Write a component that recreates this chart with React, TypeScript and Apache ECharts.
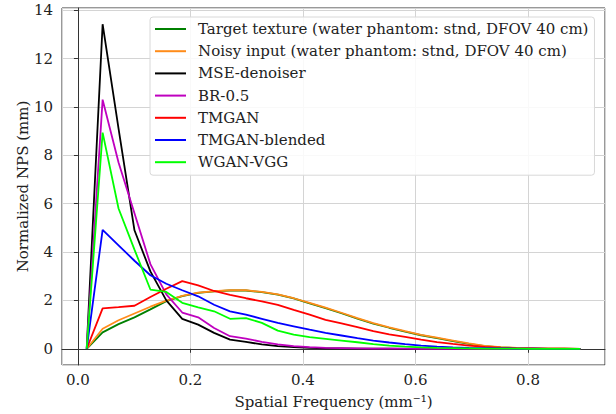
import React, { useEffect, useRef } from "react";
import * as echarts from "echarts";

const freq = [0.0156, 0.0439, 0.0722, 0.1005, 0.1288, 0.1571, 0.1854, 0.2137, 0.242, 0.2703, 0.2986, 0.3269, 0.3552, 0.3835, 0.4118, 0.4401, 0.4684, 0.4967, 0.525, 0.5533, 0.5816, 0.6099, 0.6382, 0.6665, 0.6948, 0.7231, 0.7514, 0.7797, 0.808, 0.8363, 0.8646, 0.8929];

const targetTexture = [0, 0.68, 1.02, 1.3, 1.63, 1.97, 2.18, 2.31, 2.37, 2.41, 2.41, 2.34, 2.24, 2.08, 1.88, 1.68, 1.47, 1.25, 1.04, 0.87, 0.71, 0.56, 0.44, 0.32, 0.2, 0.11, 0.06, 0.03, 0.02, 0.01, 0.01, 0];
const noisyInput = [0, 0.83, 1.18, 1.46, 1.74, 1.99, 2.19, 2.32, 2.38, 2.42, 2.42, 2.35, 2.25, 2.09, 1.9, 1.7, 1.49, 1.27, 1.06, 0.89, 0.73, 0.58, 0.46, 0.34, 0.22, 0.12, 0.07, 0.04, 0.02, 0.01, 0.01, 0];
const mseDenoiser = [0, 13.42, 9.1, 4.9, 3.2, 2.0, 1.24, 1.0, 0.66, 0.38, 0.29, 0.18, 0.11, 0.07, 0.04, 0.02, 0.02, 0.01, 0.01, 0.01, 0, 0, 0, 0, 0, 0, 0, 0, 0, 0, 0, 0];
const br05 = [0, 10.3, 7.7, 5.6, 3.5, 2.25, 1.5, 1.3, 0.86, 0.52, 0.42, 0.29, 0.18, 0.11, 0.07, 0.04, 0.03, 0.02, 0.01, 0.01, 0.01, 0, 0, 0, 0, 0, 0, 0, 0, 0, 0, 0];
const tmgan = [0, 1.67, 1.72, 1.78, 2.14, 2.48, 2.8, 2.62, 2.39, 2.23, 2.09, 1.96, 1.82, 1.61, 1.41, 1.2, 1.05, 0.9, 0.73, 0.6, 0.49, 0.38, 0.28, 0.2, 0.13, 0.08, 0.05, 0.03, 0.02, 0.01, 0.01, 0];
const tmganBlended = [0, 4.92, 4.28, 3.64, 3.04, 2.69, 2.42, 2.17, 1.82, 1.55, 1.41, 1.24, 1.07, 0.93, 0.79, 0.66, 0.55, 0.44, 0.34, 0.26, 0.19, 0.13, 0.09, 0.06, 0.04, 0.03, 0.02, 0.01, 0.01, 0, 0, 0];
const wganVgg = [0, 8.94, 5.8, 4.1, 2.45, 2.35, 1.9, 1.71, 1.55, 1.24, 1.27, 1.07, 0.75, 0.59, 0.48, 0.41, 0.34, 0.27, 0.19, 0.13, 0.09, 0.06, 0.04, 0.03, 0.02, 0.01, 0.01, 0.01, 0, 0, 0, 0];

const seriesNames = [
  "Target texture (water phantom: stnd, DFOV 40 cm)",
  "Noisy input (water phantom: stnd, DFOV 40 cm)",
  "MSE-denoiser",
  "BR-0.5",
  "TMGAN",
  "TMGAN-blended",
  "WGAN-VGG",
];
const seriesValues = [targetTexture, noisyInput, mseDenoiser, br05, tmgan, tmganBlended, wganVgg];
const seriesColors = ["#008000", "#ff8c1a", "#000000", "#bf00bf", "#ff0000", "#0000ff", "#00ff00"];

const FONT = "'DejaVu Serif', serif";
const FS = 15;

export default function App() {
  const ref = useRef<HTMLDivElement>(null);
  useEffect(() => {
    if (!ref.current) return;
    const chart = echarts.init(ref.current, null, { renderer: "svg" });
    const isMultiple = (v: number, step: number) => Math.abs(v / step - Math.round(v / step)) < 1e-6;
    chart.setOption({
      animation: false,
      backgroundColor: "#ffffff",
      grid: {
        left: 62,
        right: 11,
        top: 8,
        bottom: 47,
        show: true,
        borderColor: "#333",
        borderWidth: 1,
        backgroundColor: "transparent",
      },
      legend: {
        orient: "vertical",
        left: 150,
        top: 17,
        icon: "rect",
        itemWidth: 31,
        itemHeight: 2,
        itemGap: 0.2,
        padding: [1, 6, 2, 5],
        backgroundColor: "rgba(255,255,255,0.85)",
        borderColor: "#d8d8d8",
        borderWidth: 1,
        borderRadius: 3,
        textStyle: { fontFamily: FONT, fontSize: FS, lineHeight: 22, color: "#222", padding: [0, 0, 0, 7] },
        data: seriesNames,
      },
      xAxis: {
        type: "value",
        min: -0.0283,
        max: 0.9368,
        splitNumber: 5,
        name: "Spatial Frequency (mm⁻¹)",
        nameLocation: "middle",
        nameGap: 29,
        nameMoveOverlap: false,
        nameTextStyle: { fontFamily: FONT, fontSize: FS, color: "#222" },
        axisLine: { show: true, lineStyle: { color: "#333" } },
        axisTick: { show: true, length: 4, lineStyle: { color: "#333" } },
        axisLabel: {
          fontFamily: FONT,
          fontSize: FS,
          color: "#222",
          margin: 7,
          showMinLabel: false,
          showMaxLabel: false,
          formatter: (v: number) => (isMultiple(v, 0.2) ? v.toFixed(1) : ""),
        },
        splitLine: { show: true, lineStyle: { color: "#d4d4d4", width: 1 } },
      },
      yAxis: {
        type: "value",
        min: -0.67,
        max: 14.09,
        splitNumber: 7,
        name: "Normalized NPS (mm)",
        nameLocation: "middle",
        nameGap: 32,
        nameMoveOverlap: false,
        nameTextStyle: { fontFamily: FONT, fontSize: FS, color: "#222" },
        axisLine: { show: true, lineStyle: { color: "#333" } },
        axisTick: { show: true, length: 4, lineStyle: { color: "#333" } },
        axisLabel: {
          fontFamily: FONT,
          fontSize: FS,
          color: "#222",
          margin: 9,
          showMinLabel: false,
          showMaxLabel: false,
          formatter: (v: number) => (isMultiple(v, 2) ? String(Math.round(v)) : ""),
        },
        splitLine: { show: true, lineStyle: { color: "#d4d4d4", width: 1 } },
      },
      series: seriesNames.map((name, k) => ({
        name,
        type: "line",
        data: freq.map((f, i) => [f, seriesValues[k][i]]),
        symbol: "none",
        lineStyle: { color: seriesColors[k], width: 1.8 },
        itemStyle: { color: seriesColors[k] },
        z: 2 + k,
      })),
    });
    return () => chart.dispose();
  }, []);
  return <div ref={ref} style={{ position: "fixed", left: 0, top: 0, width: 616, height: 414 }} />;
}
